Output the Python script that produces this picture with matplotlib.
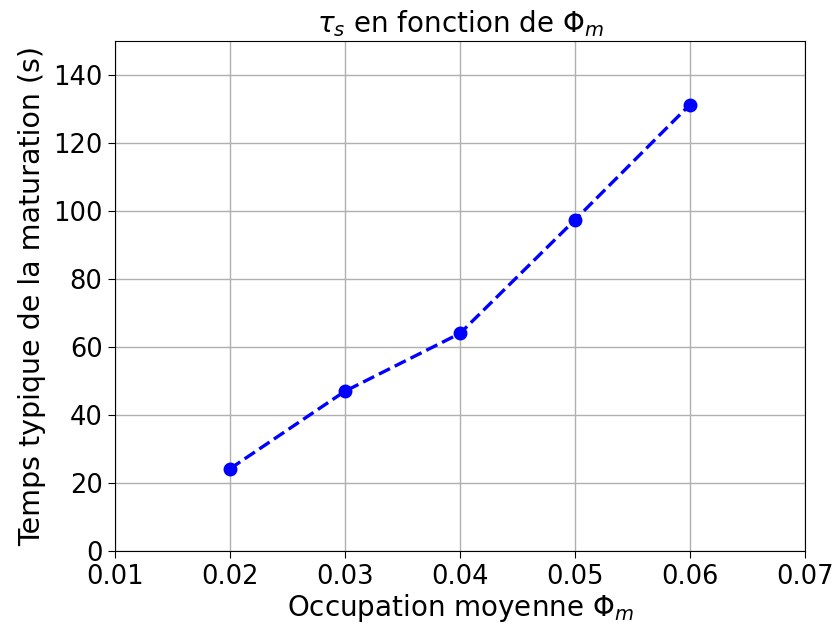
import matplotlib
matplotlib.use("Agg")
import matplotlib.pyplot as plt

phi_m = [0.02, 0.03, 0.04, 0.05, 0.06]
tau_s = [24.2, 47.0, 64.0, 97.4, 131.3]
xticks = [0.01, 0.02, 0.03, 0.04, 0.05, 0.06, 0.07]
yticks = [0, 20, 40, 60, 80, 100, 120, 140]

fig = plt.figure(figsize=(8.35, 6.33), dpi=100)
ax = fig.add_axes([115/835, 1-551/633, 690/835, 510/633])
ax.plot(phi_m, tau_s, 'b--o', linewidth=2.4, markersize=9)
ax.set_xlim(0.01, 0.07)
ax.set_ylim(0, 150)
ax.set_xticks(xticks)
ax.set_yticks(yticks)
ax.grid(True, color='#b0b0b0', linewidth=1)
ax.tick_params(labelsize=18.5, length=5, pad=4)
ax.set_xlabel(r'Occupation moyenne $\Phi_m$', fontsize=20, labelpad=2)
ax.set_ylabel('Temps typique de la maturation (s)', fontsize=20.5, labelpad=5)
ax.set_title(r'$\tau_s$ en fonction de $\Phi_m$', fontsize=20, pad=6)
fig.savefig('out.png', dpi=100)
